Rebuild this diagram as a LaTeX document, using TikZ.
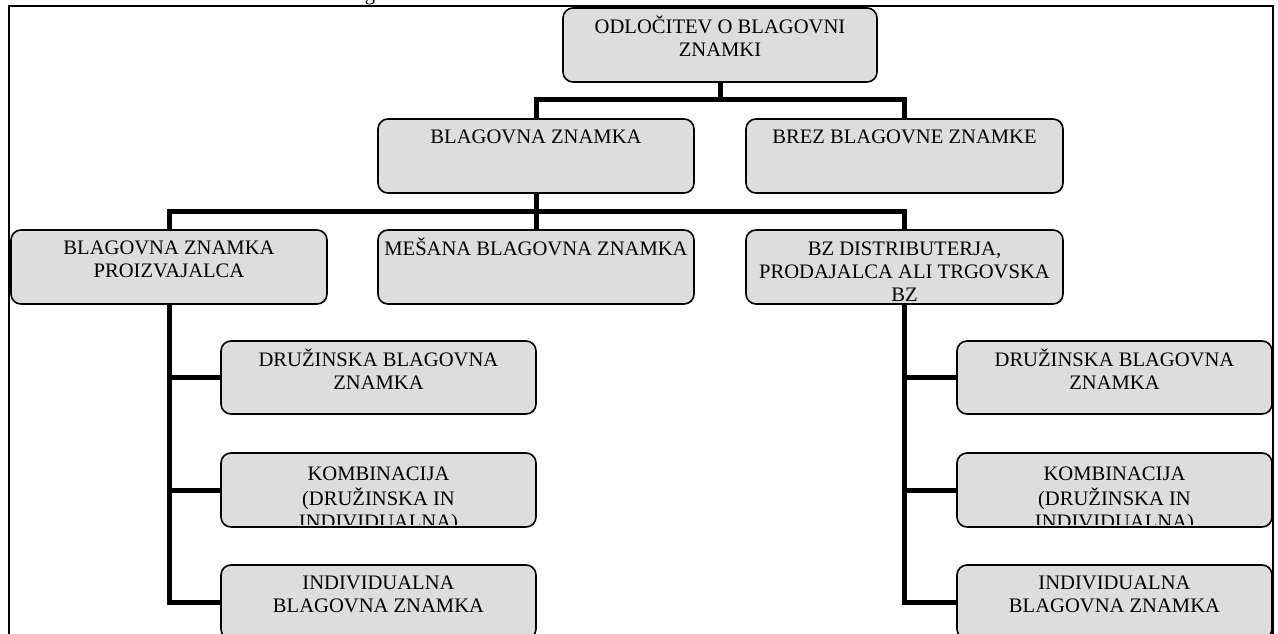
\documentclass[tikz,border=0pt]{standalone}
\usepackage{fontspec}
\setmainfont{Liberation Serif}
\definecolor{boxgray}{RGB}{221,221,221}
\tikzset{
  boxshape/.style={draw=black, line width=1.6pt, fill=boxgray, rounded corners=10pt,
    inner sep=0pt, outer sep=0pt, rectangle},
  boxtext/.style={anchor=north, align=center, inner sep=0pt,
    font=\fontsize{20.6}{23}\selectfont},
  conn/.style={line width=5pt, line join=miter},
  frame/.style={line width=2pt}
}
% box with top-aligned text, clipped to the box interior
% #1 = text top offset, #2 = name, #3..#6 = corners, #7 = text
\newcommand\orgbox[7][8]{%
  \node[boxshape, minimum width={#5-#3}, minimum height={#6-#4}]
    (#2) at ({(#3+#5)/2},{(#4+#6)/2}) {};
  \begin{scope}
    \clip ({#3},{#4}) rectangle ({#5},{#6-3});
    \node[boxtext] at ({(#3+#5)/2},{#4+#1}) {\strut #7};
  \end{scope}}
\begin{document}
\begin{tikzpicture}[x=1pt,y=-1pt]
\useasboundingbox (0,0) rectangle (1278,634);
\fill[white] (0,0) rectangle (1278,634);

% caption line above the frame (only its descender shows)
\node[anchor=base, inner sep=0pt, font=\fontsize{20.6}{23}\selectfont] (capt) at (370,0.6) {g};

% outer frame
\draw[frame] (9,6.5) rectangle (1273,700);

% boxes
\orgbox{top}{563}{8}{877}{82}{ODLOČITEV O BLAGOVNI\\ZNAMKI}
\orgbox{bz}{378}{119}{694}{193}{BLAGOVNA ZNAMKA}
\orgbox{brez}{746}{119}{1063}{193}{BREZ BLAGOVNE ZNAMKE}
\orgbox{pro}{11}{230}{327}{304}{BLAGOVNA ZNAMKA\\PROIZVAJALCA}
\orgbox{mes}{378}{230}{694}{304}{MEŠANA BLAGOVNA ZNAMKA}
\orgbox[9]{dist}{746}{230}{1063}{304}{BZ DISTRIBUTERJA,\\PRODAJALCA ALI TRGOVSKA\\BZ}
\orgbox{ldru}{221}{341}{536}{414}{DRUŽINSKA BLAGOVNA\\ZNAMKA}
\orgbox[11]{lkom}{221}{453}{536}{527}{KOMBINACIJA\\(DRUŽINSKA IN\\INDIVIDUALNA)}
\orgbox{lind}{221}{565}{536}{639}{INDIVIDUALNA\\BLAGOVNA ZNAMKA}
\orgbox{rdru}{957}{341}{1272}{414}{DRUŽINSKA BLAGOVNA\\ZNAMKA}
\orgbox[11]{rkom}{957}{453}{1272}{527}{KOMBINACIJA\\(DRUŽINSKA IN\\INDIVIDUALNA)}
\orgbox{rind}{957}{565}{1272}{639}{INDIVIDUALNA\\BLAGOVNA ZNAMKA}

% bus levels
\coordinate (lvA) at (0,100);
\coordinate (lvB) at (0,211.5);

% level 1 -> level 2
\draw[conn] (top.south) -- (top.south |- lvA);
\draw[conn] (bz.north) |- (lvA -| brez.north) -- (brez.north);

% level 2 -> level 3
\draw[conn] (bz.south) -- (bz.south |- lvB);
\draw[conn] (pro.north) |- (lvB -| dist.north) -- (dist.north);
\draw[conn] (mes.north) -- (mes.north |- lvB);

% producer brand branches
\draw[conn] (pro.south) |- (lind.west);
\draw[conn] (pro.south |- ldru.west) -- (ldru.west);
\draw[conn] (pro.south |- lkom.west) -- (lkom.west);

% distributor brand branches
\draw[conn] (dist.south) |- (rind.west);
\draw[conn] (dist.south |- rdru.west) -- (rdru.west);
\draw[conn] (dist.south |- rkom.west) -- (rkom.west);
\end{tikzpicture}
\end{document}
